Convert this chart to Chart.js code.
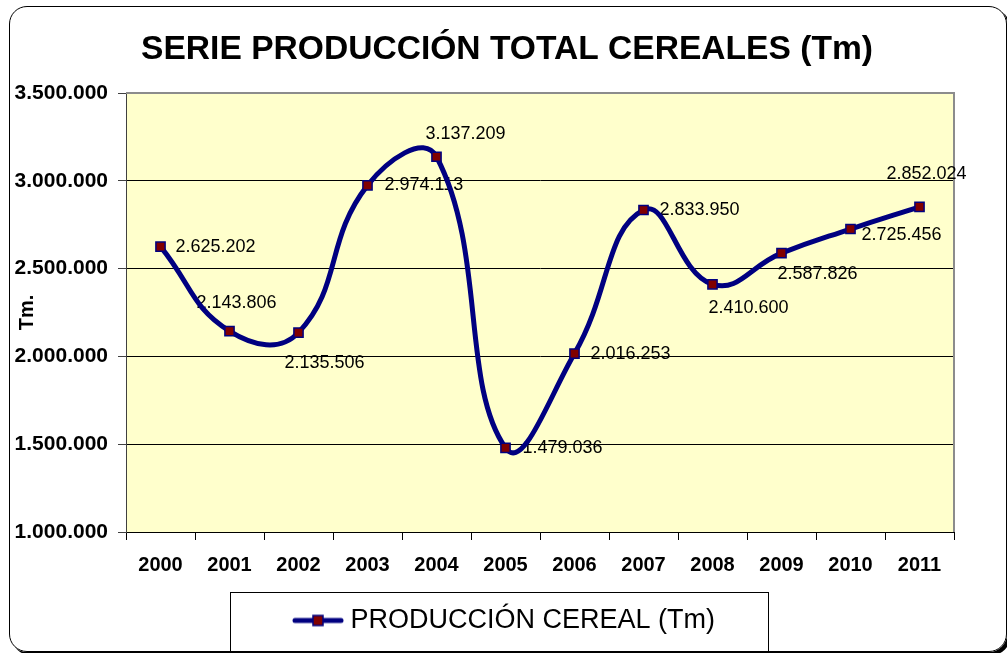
<!DOCTYPE html>
<html>
<head>
<meta charset="utf-8">
<script src="https://cdn.jsdelivr.net/npm/chart.js@4/dist/chart.umd.min.js"></script>
<style>
    html, body { margin: 0; padding: 0; background: #fff; overflow: hidden; }
    #frame {
        position: absolute; left: 9px; top: 6px; width: 998px; height: 646px;
        box-sizing: border-box; border: 1px solid #000; border-radius: 18px;
        box-shadow: 3px 3px 0 #000;
    }
    #wrap { position: absolute; left: 0; top: 0; width: 1007px; height: 653px; }
</style>
</head>
<body>
<div id="frame"></div>
<div id="wrap"><canvas id="myChart" width="1007" height="653"></canvas></div>
<script>
let years = ['2000', '2001', '2002', '2003', '2004', '2005', '2006', '2007', '2008', '2009', '2010', '2011'];
let production = [2625202, 2143806, 2135506, 2974113, 3137209, 1479036, 2016253, 2833950, 2410600, 2587826, 2725456, 2852024];
let yMin = 1000000;
let yMax = 3500000;
let yStep = 500000;

let chartTitle = 'SERIE PRODUCCIÓN TOTAL CEREALES (Tm)';
let seriesName = 'PRODUCCIÓN CEREAL (Tm)';
let yTitle = 'Tm.';

// where each value label sits relative to its point (left edge, vertical centre)
let labelShift = [[15, 0], [-33, -28], [-14, 30], [17, 0], [-11, -23], [17, 0],
                  [16, 0], [16, 0], [-4, 24], [-4, 21], [11, 6], [-33, -33]];

let fontFam = "'Liberation Sans', Arial, sans-serif";
Chart.defaults.font.family = fontFam;
Chart.defaults.color = '#000';

function miles(v) {
    return String(Math.round(v)).replace(/\B(?=(\d{3})+(?!\d))/g, '.');
}

function legendSymbol() {
    let c = document.createElement('canvas');
    c.width = 52;
    c.height = 14;
    let g = c.getContext('2d');
    g.strokeStyle = '#000080';
    g.lineWidth = 5;
    g.lineCap = 'round';
    g.beginPath();
    g.moveTo(3, 7);
    g.lineTo(49, 7);
    g.stroke();
    g.fillStyle = '#800000';
    g.fillRect(21, 2, 10, 10);
    g.strokeStyle = '#000080';
    g.lineWidth = 1.5;
    g.strokeRect(21, 2, 10, 10);
    return c;
}

let plotBack = {
    id: 'plotBack',
    beforeDraw(chart) {
        let a = chart.chartArea;
        let ctx = chart.ctx;
        ctx.save();
        ctx.fillStyle = '#FFFFCC';
        ctx.fillRect(a.left, a.top, a.right - a.left, a.bottom - a.top);
        ctx.restore();
    },
    beforeDatasetsDraw(chart) {
        let a = chart.chartArea;
        let ctx = chart.ctx;
        ctx.save();
        ctx.strokeStyle = '#8c8c8c';
        ctx.lineWidth = 2;
        ctx.beginPath();
        ctx.moveTo(a.left, a.top);
        ctx.lineTo(a.right, a.top);
        ctx.lineTo(a.right, a.bottom);
        ctx.stroke();
        ctx.restore();

        // value labels go under the line, as in the original
        let meta = chart.getDatasetMeta(0);
        ctx.save();
        ctx.font = '18px ' + fontFam;
        ctx.fillStyle = '#000';
        ctx.textAlign = 'left';
        ctx.textBaseline = 'middle';
        for (let i = 0; i < meta.data.length; i++) {
            let p = meta.data[i];
            ctx.fillText(miles(production[i]), p.x + labelShift[i][0], p.y + labelShift[i][1]);
        }
        ctx.restore();
    },
    afterDraw(chart) {
        let box = chart.legend.legendHitBoxes[0];
        if (!box) return;
        let ctx = chart.ctx;
        let mid = box.top + box.height / 2;
        ctx.save();
        ctx.strokeStyle = '#000';
        ctx.lineWidth = 1;
        ctx.strokeRect(Math.round(box.left - 69) + 0.5, Math.round(mid - 29) + 0.5,
            Math.round(box.width + 122), 59);
        ctx.restore();
    }
};

let ctx = document.getElementById('myChart').getContext('2d');

new Chart(ctx, {
    type: 'line',
    data: {
        labels: years,
        datasets: [{
            label: seriesName,
            data: production,
            borderColor: '#000080',
            borderWidth: 5,
            tension: 0.45,
            fill: false,
            pointStyle: 'rect',
            pointRadius: 6.5,
            pointBackgroundColor: '#800000',
            pointBorderColor: '#000080',
            pointBorderWidth: 1.5,
            yAxisID: 'y'
        }]
    },
    options: {
        responsive: false,
        animation: false,
        devicePixelRatio: 1,
        layout: { padding: { left: 7, right: 0, top: 0, bottom: 9 } },
        plugins: {
            title: {
                display: true,
                text: chartTitle,
                color: '#000',
                font: { size: 33.6, weight: 'bold', lineHeight: 1.2 },
                padding: { top: 30, bottom: 22.7 }
            },
            legend: {
                display: true,
                position: 'bottom',
                labels: {
                    usePointStyle: true,
                    pointStyle: legendSymbol(),
                    pointStyleWidth: 38,
                    padding: 10,
                    color: '#000',
                    font: { size: 27 }
                }
            },
            tooltip: { enabled: false }
        },
        scales: {
            x: {
                type: 'category',
                offset: true,
                grid: {
                    display: true,
                    offset: true,
                    drawOnChartArea: false,
                    drawTicks: true,
                    tickLength: 8,
                    color: '#000'
                },
                border: { color: '#000', width: 1 },
                ticks: {
                    color: '#000',
                    padding: 13,
                    maxRotation: 0,
                    font: { size: 20, weight: 'bold' }
                },
                afterFit(scale) { scale.height = 65; }
            },
            y: {
                position: 'left',
                min: yMin,
                max: yMax,
                grid: {
                    color: '#000',
                    lineWidth: 1,
                    drawTicks: true,
                    tickLength: 8,
                    tickColor: '#404040'
                },
                border: { color: '#404040', width: 1 },
                ticks: {
                    stepSize: yStep,
                    color: '#000',
                    padding: 10,
                    font: { size: 21, weight: 'bold' },
                    callback: function (v) { return miles(v); }
                },
                title: {
                    display: true,
                    text: yTitle,
                    color: '#000',
                    font: { size: 20, weight: 'bold', lineHeight: 1.2 },
                    padding: { top: 8, bottom: 0 }
                },
                afterFit(scale) { scale.width = 119; }
            },
            yRight: {
                position: 'right',
                display: true,
                grid: { display: false },
                border: { display: false },
                ticks: { display: false },
                afterFit(scale) { scale.width = 53; }
            }
        }
    },
    plugins: [plotBack]
});
</script>
</body>
</html>
